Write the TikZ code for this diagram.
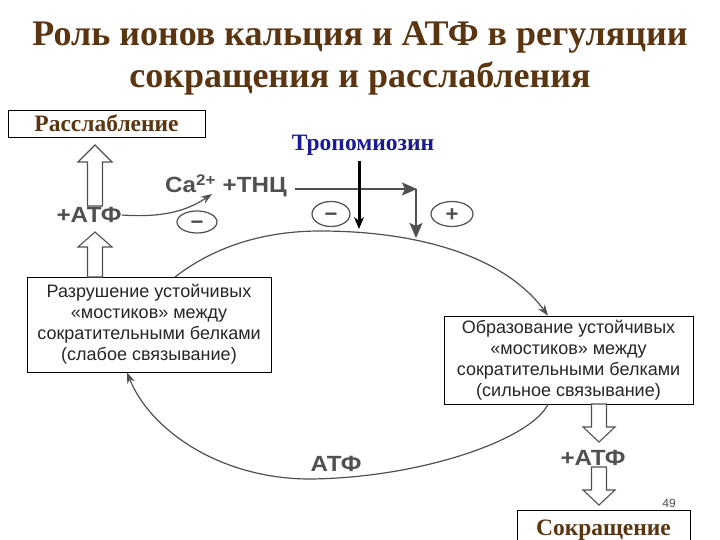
\documentclass[tikz,border=0pt]{standalone}
\usepackage{fontspec}
\setmainfont{Liberation Serif}
\setsansfont{Liberation Sans}
\usetikzlibrary{arrows.meta,shapes.geometric}
\definecolor{titlebrown}{HTML}{5A3510}
\definecolor{tropblue}{HTML}{1A1A96}
\definecolor{diag}{HTML}{505050}
\tikzset{
  titletext/.style={text=titlebrown, font=\fontsize{36}{40}\selectfont\bfseries, inner sep=0pt},
  headbox/.style={draw=black, line width=0.8pt, text=titlebrown, font=\fontsize{23.5}{26}\selectfont\bfseries, inner sep=0pt},
  stagebox/.style={draw=black, line width=0.8pt, fill=white, align=center, text=black!85, font=\sffamily\fontsize{18}{21}\selectfont, inner sep=0pt},
  difftext/.style={text=diag, font=\sffamily\bfseries\fontsize{22}{24}\selectfont, inner sep=0pt},
  sign/.style={draw=diag, line width=1.2pt, ellipse, text=diag, font=\sffamily\bfseries\fontsize{22}{22}\selectfont, inner sep=0pt, text height=14.6pt, text depth=0pt},
  hollow/.style={draw=diag, line width=1.1pt, fill=white},
  cyc/.style={draw=diag, line width=1.2pt, -{Stealth[length=11pt,width=8pt]}},
  grayarrow/.style={draw=diag, line width=2pt, -{Stealth[length=15pt,width=13pt,inset=3pt]}},
}
\newcommand{\hollowup}[4]{%
  \draw[hollow] (#1-7.5,#2) -- (#1-7.5,#4) -- (#1-17,#4) -- (#1,#3) -- (#1+17,#4) -- (#1+7.5,#4) -- (#1+7.5,#2) -- cycle;}
\newcommand{\wide}[1]{\scalebox{1.1}[1]{#1}}
\begin{document}
\begin{tikzpicture}[x=1pt,y=-1pt]
\useasboundingbox (0,0) rectangle (720,540);
\fill[white] (0,0) rectangle (720,540);

% title
\node[titletext] (t1) at (360,38) {Роль ионов кальция и АТФ в регуляции};
\node[titletext] (t2) at (360,78) {сокращения и расслабления};

% boxes
\node[headbox, minimum width=197pt, minimum height=27pt] (relax) at (106.5,123.5) {Расслабление};
\node[text=tropblue, font=\fontsize{23.5}{26}\selectfont\bfseries, inner sep=0pt] (trop) at (363,145) {Тропомиозин};
\node[stagebox, minimum width=244pt, minimum height=95pt] (weak) at (149,324.5)
  {Разрушение устойчивых\\«мостиков» между\\сократительными белками\\(слабое связывание)};
\node[stagebox, minimum width=249pt, minimum height=88pt] (strong) at (568.5,360)
  {Образование устойчивых\\«мостиков» между\\сократительными белками\\(сильное связывание)};
\node[headbox, minimum width=173pt, minimum height=40pt, anchor=north] (contr) at (603.5,510) {\raisebox{4pt}{Сокращение}};

% left side
\node[difftext] (atpL) at (89,215) {\wide{+АТФ}};
\hollowup{95}{206}{145}{162}
\hollowup{95}{277}{232}{247}

\node[difftext] (ca) at (226,186) {\wide{Ca\textsuperscript{2+} +ТНЦ}};
\coordinate (caIn) at (212,194);
\draw[cyc] (atpL.east) .. controls (165,218) and (188,210) .. (caIn);
\node[sign, minimum width=40pt, minimum height=22pt] (m1) at (197,222) {−};

% Ca -> corner -> cycle
\coordinate (corner) at (417,189);
\coordinate (plusIn) at (416,238);
\draw[grayarrow] (ca.east |- corner) ++(8,0) -- (corner);
\draw[grayarrow] (416,189) -- (plusIn);
\node[sign, minimum width=38pt, minimum height=25pt] (m2) at (331,214) {−};
\node[sign, minimum width=42pt, minimum height=25pt] (p1) at (452,214) {+};

% tropomyosin arrow
\coordinate (tropIn) at (359,229);
\draw[black, line width=3pt, -{Stealth[length=12pt,width=10pt]}] (trop.south -| tropIn) ++(0,6) -- (tropIn);

% cycle
\draw[cyc] (175,277) .. controls (215,246) and (265,231) .. (320,231)
  .. controls (420,231) and (505,257) .. (strong.north -| 548,0);
\draw[cyc] (strong.south -| 548,0) .. controls (530,440) and (420,478) .. (310,479)
  .. controls (220,479) and (150,430) .. (weak.south -| 127,0);
\node[difftext] (atpB) at (336,464) {\wide{АТФ}};

% right side
\node[difftext] (atpR) at (593,458) {\wide{+АТФ}};
\draw[hollow] (591.5,404) -- (591.5,427) -- (583,427) -- (599,442) -- (615,427) -- (606.5,427) -- (606.5,404) -- cycle;
\draw[hollow] (591.5,467) -- (591.5,490) -- (583,490) -- (599,505) -- (615,490) -- (606.5,490) -- (606.5,467) -- cycle;
\node[text=diag, font=\sffamily\fontsize{12}{12}\selectfont, inner sep=0pt] (pg) at (669,503) {49};
\end{tikzpicture}
\end{document}
